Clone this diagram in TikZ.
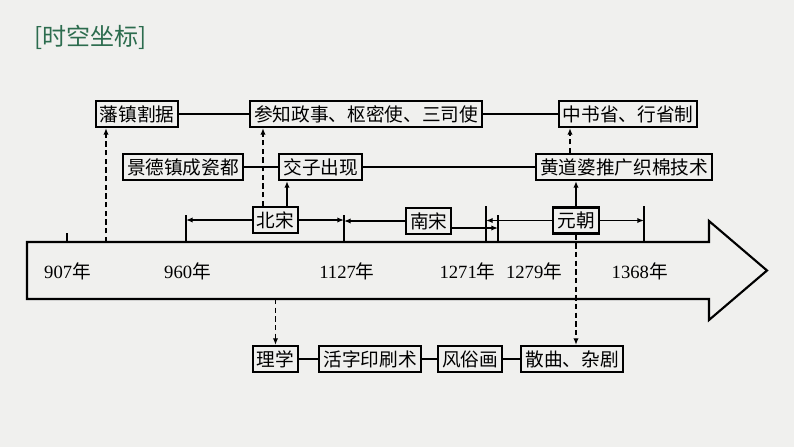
\documentclass[tikz,border=0pt]{standalone}
\usepackage{fontspec}
\setmainfont{Liberation Serif}
\newfontfamily\cjk{Noto Sans CJK SC}
\usetikzlibrary{arrows.meta,calc}
\definecolor{paper}{RGB}{240,240,238}
\definecolor{titlegreen}{RGB}{44,108,78}
\tikzstyle{box} = [draw, line width=1.6pt, font=\cjk\fontsize{14}{14}\selectfont, inner xsep=3pt, inner ysep=0pt, minimum height=19.5pt, fill=paper]
\tikzstyle{link} = [line width=1.2pt]
\tikzstyle{arrow} = [line width=1.2pt, -{Latex[length=5pt,width=4pt]}]
\tikzstyle{darrow} = [arrow, dash pattern=on 4pt off 2.5pt]
\tikzstyle{year} = [font=\fontsize{14}{14}\selectfont]

\begin{document}
\begin{tikzpicture}[x=0.75pt,y=-0.75pt]
\fill[paper] (0,0) rectangle (794,447);
\useasboundingbox (0,0) rectangle (794,447);
\node[anchor=west, text=titlegreen, font=\cjk\fontsize{18}{18}\selectfont] (title) at (30,37) {[时空坐标]};
% time axis
\draw[line width=1.6pt] (27,242) -- (709,242) -- (709,221) -- (767,270.5) -- (709,320) -- (709,299) -- (27,299) -- cycle;
\coordinate (t907) at (66.7,242);
\coordinate (t960) at (186,242);
\coordinate (t1127) at (344,242);
\coordinate (t1271) at (486,242);
\coordinate (t1279) at (498,242);
\coordinate (t1368) at (644,242);
\draw[link] (t907) -- ++(0,-9);
\draw[link] (t960) -- ++(0,-27);
\draw[link] (t1127) -- ++(0,-27);
\draw[link] (t1271) -- ++(0,-36);
\draw[link] (t1279) -- ++(0,-27);
\draw[link] (t1368) -- ++(0,-36);
\node[year] (y907) at (67.5,271) {907\cjk 年};
\node[year] (y960) at (187.5,271) {960\cjk 年};
\node[year] (y1127) at (347,271) {1127\cjk 年};
\node[year] (y1271) at (467.5,271) {1271\cjk 年};
\node[year] (y1279) at (534,271) {1279\cjk 年};
\node[year] (y1368) at (639.7,271) {1368\cjk 年};
% dynasties
\node[box] (bs) at (275.5,220) {北宋};
\node[box] (ns) at (428.7,221) {南宋};
\node[box] (yc) at (576,220.5) {元朝};
\draw[arrow] (bs.west) -- (t960 |- bs.west);
\draw[arrow] (bs.east) -- (t1127 |- bs.east);
\draw[arrow] (ns.west) -- (t1127 |- ns.west);
\draw[arrow] ($(ns.east)+(0,7)$) coordinate (n2) -- (t1279 |- n2);
\draw[arrow] (yc.west) -- (t1271 |- yc.west);
\draw[arrow] (yc.east) -- (t1368 |- yc.east);
% top rows
\node[box] (fz) at (137,114) {藩镇割据};
\node[box, minimum width=173pt] (zs) at (366,114) {参知政事、枢密使、三司使};
\node[box] (xs) at (628,114) {中书省、行省制};
\node[box] (jdz) at (183,167) {景德镇成瓷都};
\node[box] (jz) at (320.7,167) {交子出现};
\node[box] (hdp) at (624,167) {黄道婆推广织棉技术};
\draw[link] (fz) -- (zs);
\draw[link] (zs) -- (xs);
\draw[link] (jdz) -- (jz);
\draw[link] (jz) -- (hdp);
% bottom row
\node[box] (lx) at (275.5,359) {理学};
\node[box] (hz) at (370,359) {活字印刷术};
\node[box] (fs) at (470,359) {风俗画};
\node[box] (sq) at (572,359) {散曲、杂剧};
\draw[link] (lx) -- (hz);
\draw[link] (hz) -- (fs);
\draw[link] (fs) -- (sq);
% vertical links
\coordinate (d1) at (106,242);
\coordinate (d2) at (263,0);
\coordinate (d3) at (287,0);
\coordinate (d4) at (275.5,299);
\coordinate (d5) at (570,0);
\draw[darrow] (d1) -- (d1 |- fz.south);
\draw[darrow] (d2 |- bs.north) -- (d2 |- zs.south);
\draw[arrow] (d3 |- bs.north) -- (d3 |- jz.south);
\draw[darrow] (d4) -- (d4 |- lx.north);
\draw[arrow] (yc.north) -- (yc.north |- hdp.south);
\draw[darrow] (yc.south) -- (yc.south |- sq.north);
\draw[darrow] (d5 |- hdp.north) -- (d5 |- xs.south);
\end{tikzpicture}
\end{document}
